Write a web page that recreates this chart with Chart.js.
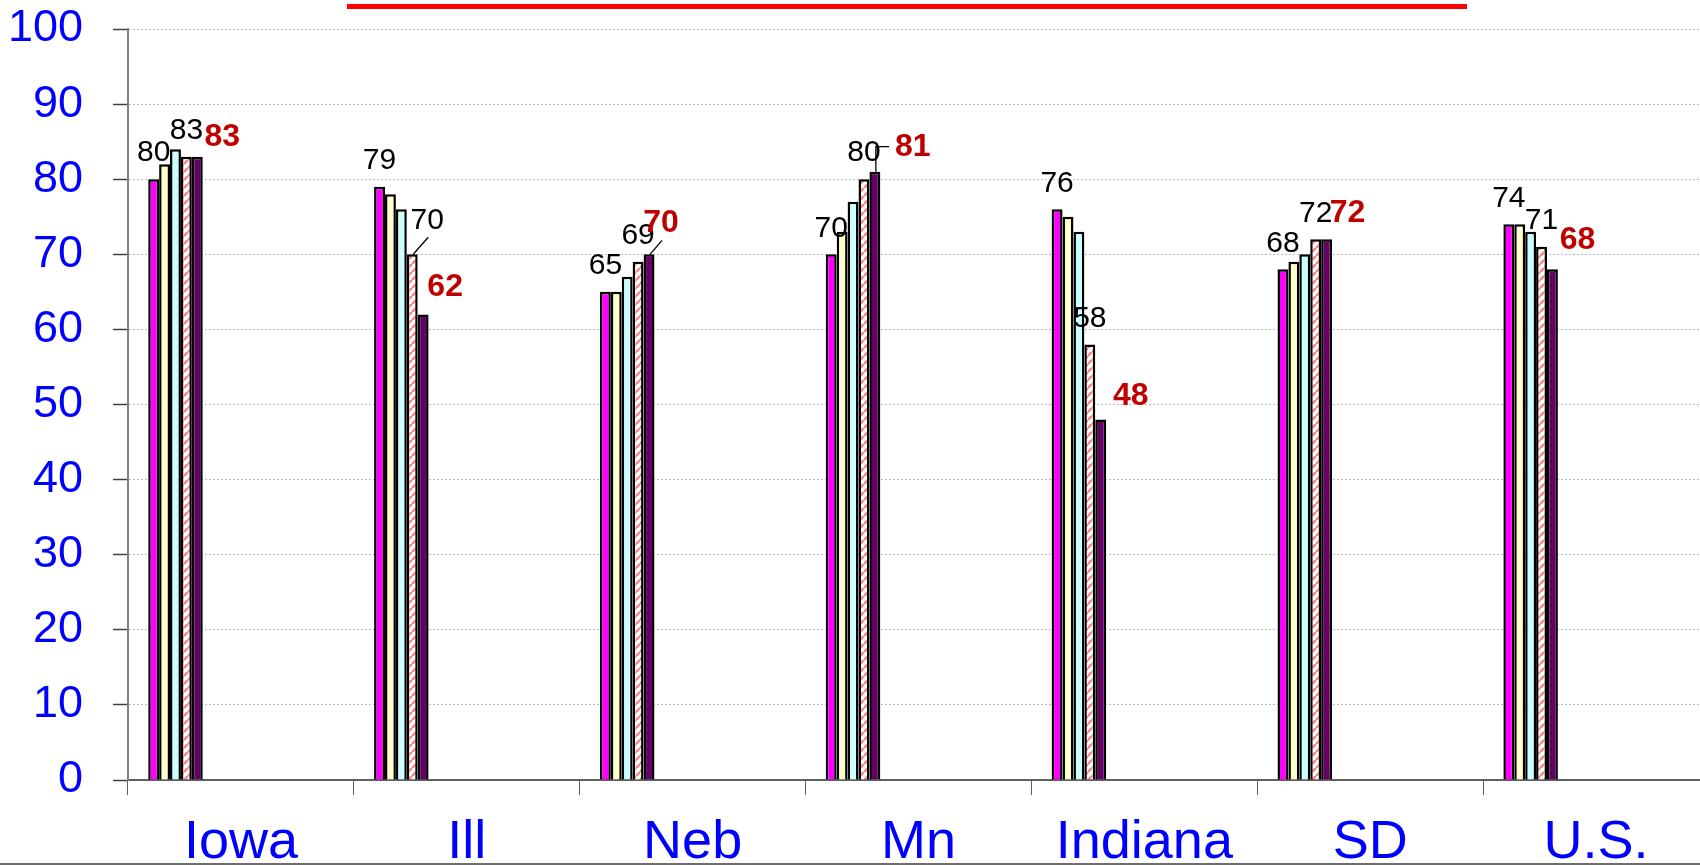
<!DOCTYPE html>
<html><head><meta charset="utf-8">
<script src="https://cdn.jsdelivr.net/npm/chart.js@4.4.1/dist/chart.umd.min.js"></script>
<style>html,body{margin:0;padding:0;background:#fff;overflow:hidden;width:1700px;height:865px}canvas{display:block}</style>
</head><body>
<canvas id="c" width="1712" height="865"></canvas>
<script>
// ---- data ----
const categories = ['Iowa', 'Ill', 'Neb', 'Mn', 'Indiana', 'SD', 'U.S.'];
const series1 = [80, 79, 65, 70, 76, 68, 74];
const series2 = [82, 78, 65, 73, 75, 69, 74];
const series3 = [84, 76, 67, 77, 73, 70, 73];
const series4 = [83, 70, 69, 80, 58, 72, 71];
const series5 = [83, 62, 70, 81, 48, 72, 68];
const yTickValues = [0, 10, 20, 30, 40, 50, 60, 70, 80, 90, 100];
const emptySlot = [null, null, null, null, null, null, null];

// ---- label placement tweaks (pixels relative to default spot above bar) ----
const hatchLabelNudge = [[0,0],[15,-8],[0,0],[0,0],[0,0],[0,0],[0,0]];
const redLabelNudge = [[25,7],[22,-1],[12,-5],[38,1],[30,3],[21,0],[25,-3]];
const hatchLeader = [null, 'diag', null, null, null, null, null];
const redLeader = [null, null, 'diag', 'elbow', null, null, null];

const FONT = "'Liberation Sans', Arial, sans-serif";

function makeHatch() {
  const t = document.createElement('canvas');
  t.width = 8; t.height = 8;
  const g = t.getContext('2d');
  g.fillStyle = '#ffffff'; g.fillRect(0, 0, 8, 8);
  g.strokeStyle = '#FF8080'; g.lineWidth = 2.4; g.lineCap = 'butt';
  g.beginPath();
  g.moveTo(0, 4); g.lineTo(4, 0);
  g.moveTo(4, 8); g.lineTo(8, 4);
  g.stroke();
  return g.createPattern(t, 'repeat');
}

const barStyle = { borderColor: '#000000', borderWidth: 2.5, categoryPercentage: 0.821, barPercentage: 1.0 };
const datasets = [
  Object.assign({ label: 's1', data: series1, backgroundColor: '#FF00FF' }, barStyle),
  Object.assign({ label: 's2', data: series2, backgroundColor: '#FFFFCC' }, barStyle),
  Object.assign({ label: 's3', data: series3, backgroundColor: '#CCFFFF' }, barStyle),
  Object.assign({ label: 's4', data: series4, backgroundColor: makeHatch() }, barStyle),
  Object.assign({ label: 's5', data: series5, backgroundColor: '#660066' }, barStyle),
];
// empty slots so the group sits at the left of each category (as in the original)
for (let k = 0; k < 12; k++) {
  datasets.push(Object.assign({ label: '', data: emptySlot, backgroundColor: 'rgba(0,0,0,0)' }, barStyle, { borderWidth: 0 }));
}

const labelPlugin = {
  id: 'labels',
  afterDatasetsDraw(chart) {
    const ctx = chart.ctx;
    const specs = [
      { ds: 0, color: '#000000', font: '30px ' + FONT, nudge: null, leader: null },
      { ds: 3, color: '#000000', font: '30px ' + FONT, nudge: hatchLabelNudge, leader: hatchLeader },
      { ds: 4, color: '#C00000', font: 'bold 32px ' + FONT, nudge: redLabelNudge, leader: redLeader },
    ];
    ctx.save();
    specs.forEach(s => {
      const meta = chart.getDatasetMeta(s.ds);
      meta.data.forEach((el, i) => {
        const v = chart.data.datasets[s.ds].data[i];
        const n = s.nudge ? s.nudge[i] : [0, 0];
        const lx = el.x + n[0];
        const ly = el.y - 26 + n[1];
        ctx.font = s.font;
        const txt = String(v);
        const w = ctx.measureText(txt).width;
        const kind = s.leader ? s.leader[i] : null;
        if (kind) {
          ctx.strokeStyle = '#000000';
          ctx.lineWidth = 1.3;
          ctx.beginPath();
          ctx.moveTo(el.x + 1, el.y);
          if (kind === 'diag') {
            ctx.lineTo(lx + 1, ly + 17);
          } else {
            ctx.lineTo(el.x + 1, ly);
            ctx.lineTo(lx - w / 2 - 6, ly);
          }
          ctx.stroke();
        }
        ctx.fillStyle = s.color;
        ctx.textAlign = 'center';
        ctx.textBaseline = 'middle';
        ctx.fillText(txt, lx, ly);
      });
    });
    ctx.restore();
  }
};

const framePlugin = {
  id: 'frame',
  beforeDraw(chart) {
    const ctx = chart.ctx;
    ctx.save();
    ctx.fillStyle = '#ffffff';
    ctx.fillRect(0, 0, chart.width, chart.height);
    ctx.restore();
  },
  afterDraw(chart) {
    const ctx = chart.ctx;
    ctx.save();
    // title underline (title itself lies above the visible frame)
    ctx.fillStyle = '#FF0000';
    ctx.fillRect(347, 4, 1120, 5);
    // bottom frame line
    ctx.strokeStyle = '#6e6e6e';
    ctx.lineWidth = 2;
    ctx.beginPath();
    ctx.moveTo(0, 864);
    ctx.lineTo(1700, 864);
    ctx.stroke();
    ctx.restore();
  }
};

new Chart(document.getElementById('c'), {
  type: 'bar',
  data: { labels: categories, datasets: datasets },
  options: {
    responsive: false,
    animation: false,
    devicePixelRatio: 1,
    layout: { padding: { left: 0, top: 29, right: 3, bottom: 0 } },
    plugins: { legend: { display: false }, tooltip: { enabled: false }, title: { display: false } },
    scales: {
      x: {
        grid: { display: true, drawOnChartArea: false, drawTicks: true, tickLength: 15, color: '#606060', offset: true, lineWidth: 1 },
        border: { display: true, color: '#606060', width: 2 },
        ticks: { color: '#0000FF', font: { family: FONT, size: 54 }, padding: 16, maxRotation: 0, autoSkip: false },
        afterFit(s) { s.height = 85; s.paddingLeft = 0; s.paddingRight = 0; }
      },
      y: {
        min: yTickValues[0],
        max: yTickValues[yTickValues.length - 1],
        afterBuildTicks(s) { s.ticks = yTickValues.map(v => ({ value: v })); },
        ticks: { color: '#0000FF', font: { family: FONT, size: 45 }, padding: 30 },
        grid: { color: '#b8b8b8', lineWidth: 1, tickLength: 15, tickColor: '#404040', tickWidth: 1.5, tickBorderDash: [] },
        border: { display: true, color: '#808080', width: 2, dash: [2, 2] },
        afterFit(s) { s.width = 128; s.paddingTop = 0; s.paddingBottom = 0; }
      }
    }
  },
  plugins: [labelPlugin, framePlugin]
});
</script>
</body></html>
